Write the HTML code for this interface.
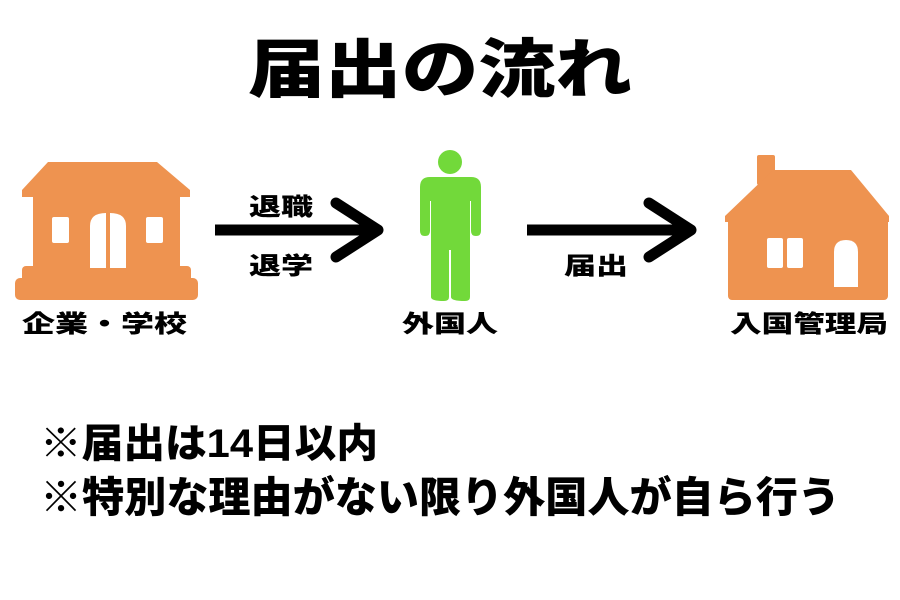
<!DOCTYPE html>
<html><head><meta charset="utf-8"><style>
html,body{margin:0;padding:0;background:#fff;width:900px;height:600px;overflow:hidden}
text{font-family:"Liberation Sans","Noto Sans CJK JP",sans-serif;font-weight:900;fill:#000}
</style></head><body>
<svg width="900" height="600" viewBox="0 0 900 600" xmlns="http://www.w3.org/2000/svg">
<rect width="900" height="600" fill="#fff"/>
<text x="248" y="92" font-size="64" textLength="384" lengthAdjust="spacingAndGlyphs">届出の流れ</text>
<!-- left building -->
<g fill="#ee9350">
<path d="M48 162 H157 L190 190 V197 H22 V190 Z"/>
<rect x="33" y="195" width="147" height="80"/>
<rect x="22" y="266" width="169" height="20" rx="4"/>
<rect x="15" y="278" width="183" height="22" rx="5"/>
</g>
<g fill="#fff">
<rect x="52" y="217" width="17" height="26" rx="2"/>
<rect x="146" y="217" width="17" height="26" rx="2"/>
<path d="M90 268 V226 Q90 213 106 213 V268 Z"/>
<path d="M110 268 V213 Q126 213 126 226 V268 Z"/>
</g>
<!-- arrows -->
<g stroke="#000" stroke-width="11" stroke-linecap="round" stroke-linejoin="round" fill="none">
<line x1="215" y1="230" x2="375" y2="230" stroke-linecap="butt"/>
<polyline points="336,203 378,230 336,257"/>
<line x1="527" y1="230" x2="688" y2="230" stroke-linecap="butt"/>
<polyline points="649,203 691,230 649,257"/>
</g>
<text x="249" y="215" font-size="24" textLength="64" lengthAdjust="spacingAndGlyphs">退職</text>
<text x="249" y="274" font-size="24" textLength="64" lengthAdjust="spacingAndGlyphs">退学</text>
<text x="564" y="274" font-size="24" textLength="64" lengthAdjust="spacingAndGlyphs">届出</text>
<!-- person -->
<g fill="#72d93a">
<circle cx="450" cy="162" r="12"/>
<path d="M430 177 H471 Q481 177 481 187 V231 Q481 236 476 236 Q471 236 471 231 V201 H470 V297 Q470 301 465 301 Q451 301 451 297 V250 H449 V297 Q449 301 444 301 Q431 301 431 297 V201 H430 V231 Q430 236 425 236 Q420 236 420 231 V187 Q420 177 430 177 Z"/>
</g>
<!-- right house -->
<g fill="#ee9350">
<rect x="757" y="155" width="18" height="30" rx="2"/>
<path d="M773 170 H851 L889 216 V222 H725 V216 Z"/>
<rect x="728" y="218" width="160" height="82" rx="4"/>
</g>
<g fill="#fff">
<rect x="767" y="238" width="16" height="30" rx="2"/>
<rect x="787" y="238" width="16" height="30" rx="2"/>
<path d="M834 287 V252 Q834 240 846 240 Q858 240 858 252 V287 Z"/>
</g>
<text x="22" y="332" font-size="24" textLength="165" lengthAdjust="spacingAndGlyphs">企業・学校</text>
<text x="402" y="332" font-size="24" textLength="96" lengthAdjust="spacingAndGlyphs">外国人</text>
<text x="730" y="332" font-size="24" textLength="158" lengthAdjust="spacingAndGlyphs">入国管理局</text>
<text x="40" y="457" font-size="40" textLength="338" lengthAdjust="spacingAndGlyphs">※届出は14日以内</text>
<text x="40" y="512" font-size="42" textLength="800" lengthAdjust="spacingAndGlyphs">※特別な理由がない限り外国人が自ら行う</text>
</svg>
</body></html>
